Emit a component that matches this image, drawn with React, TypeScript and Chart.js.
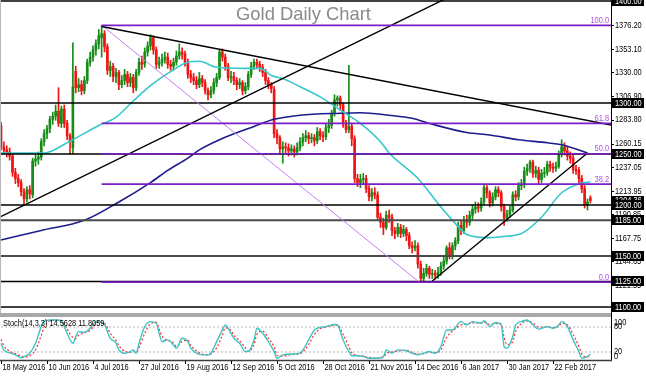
import React, { useEffect, useRef } from "react";
import { Chart, registerables } from "chart.js";

Chart.register(...registerables);

// ---------------- data ----------------
const opens = [
  1278,1257,1254,1252,1248,1232,1226,1222,1213,1206,
  1215,1210,1243,1245,1247,1262,1270,1275,1284,1287,
  1292,1280,1294,1280,1268,1256,1331,1315,1318,1312,
  1322,1340,1345,1352,1358,1364,1368,1355,1332,1336,
  1326,1330,1318,1322,1328,1320,1325,1315,1330,1340,
  1338,1350,1356,1364,1352,1338,1340,1343,1345,1338,
  1336,1340,1346,1350,1348,1340,1328,1325,1322,1318,
  1324,1320,1312,1308,1312,1320,1325,1350,1345,1336,
  1325,1326,1322,1318,1320,1312,1316,1328,1336,1340,
  1338,1335,1330,1322,1318,1313,1270,1266,1255,1257,
  1256,1253,1255,1252,1256,1262,1266,1268,1265,1266,
  1263,1272,1268,1267,1276,1278,1290,1303,1305,1298,
  1280,1274,1277,1265,1226,1222,1225,1226,1216,1208,
  1212,1210,1188,1183,1178,1190,1188,1175,1172,1178,
  1172,1176,1170,1160,1158,1160,1142,1128,1133,1138,
  1132,1133,1131,1134,1140,1145,1158,1150,1160,1165,
  1180,1175,1185,1183,1190,1196,1198,1197,1203,1217,
  1212,1202,1208,1215,1212,1198,1187,1191,1195,1210,
  1208,1219,1220,1233,1236,1242,1231,1234,1225,1231,
  1232,1240,1237,1236,1238,1250,1257,1253,1248,1246,
  1235,1234,1226,1216,1200,1207,
];
const highs = [
  1281,1262,1258,1256,1250,1236,1230,1225,1216,1218,
  1219,1246,1249,1252,1265,1274,1278,1287,1291,1298,
  1315,1297,1298,1283,1270,1359,1336,1324,1322,1326,
  1343,1350,1356,1362,1372,1376,1371,1358,1341,1339,
  1334,1332,1327,1333,1331,1329,1328,1333,1344,1346,
  1354,1360,1367,1366,1355,1345,1348,1350,1349,1342,
  1344,1351,1358,1354,1351,1343,1332,1329,1326,1330,
  1327,1323,1315,1316,1324,1329,1352,1353,1348,1339,
  1331,1330,1325,1324,1322,1320,1331,1340,1343,1343,
  1341,1338,1333,1325,1320,1316,1274,1268,1262,1261,
  1260,1259,1258,1261,1266,1270,1273,1271,1270,1269,
  1276,1275,1272,1280,1284,1293,1308,1307,1307,1300,
  1283,1337,1280,1268,1230,1230,1231,1229,1219,1216,
  1217,1213,1192,1187,1194,1195,1191,1178,1182,1181,
  1180,1178,1173,1164,1165,1163,1145,1138,1142,1140,
  1137,1136,1139,1144,1149,1160,1163,1163,1168,1183,
  1184,1189,1190,1194,1200,1203,1202,1207,1220,1219,
  1214,1212,1218,1218,1214,1201,1195,1199,1213,1214,
  1222,1225,1237,1240,1244,1244,1238,1237,1235,1237,
  1243,1243,1241,1242,1253,1264,1261,1257,1252,1249,
  1239,1237,1229,1219,1206,1209,
];
const lows = [
  1254,1250,1247,1244,1228,1221,1218,1209,1200,1203,
  1206,1207,1238,1240,1244,1258,1265,1271,1279,1283,
  1277,1276,1276,1264,1250,1250,1310,1311,1308,1309,
  1319,1336,1341,1347,1353,1345,1350,1328,1326,1321,
  1320,1313,1315,1318,1316,1316,1310,1312,1327,1333,
  1335,1346,1352,1348,1334,1334,1336,1339,1334,1332,
  1332,1337,1343,1343,1336,1324,1320,1318,1314,1315,
  1316,1309,1303,1305,1309,1316,1323,1341,1332,1322,
  1320,1318,1313,1314,1308,1309,1313,1325,1333,1334,
  1331,1326,1318,1314,1310,1266,1260,1250,1241,1251,
  1248,1249,1247,1249,1253,1258,1262,1260,1261,1258,
  1260,1264,1262,1264,1271,1275,1287,1297,1293,1276,
  1271,1271,1258,1222,1218,1217,1220,1212,1204,1204,
  1206,1185,1178,1171,1176,1183,1170,1167,1169,1168,
  1169,1165,1157,1153,1155,1138,1124,1125,1130,1128,
  1128,1127,1128,1131,1137,1142,1147,1147,1156,1162,
  1171,1172,1178,1180,1186,1192,1193,1194,1200,1207,
  1198,1199,1205,1208,1194,1180,1184,1188,1193,1204,
  1205,1215,1217,1229,1232,1227,1227,1221,1222,1227,
  1229,1233,1232,1233,1236,1247,1249,1244,1241,1231,
  1230,1222,1212,1197,1195,1202,
];
const closes = [
  1257,1254,1252,1248,1232,1226,1222,1213,1206,1215,
  1211,1243,1245,1247,1262,1270,1275,1284,1287,1292,
  1280,1294,1280,1268,1262,1316,1315,1318,1312,1322,
  1340,1345,1352,1358,1366,1368,1355,1332,1336,1326,
  1330,1318,1322,1328,1320,1325,1315,1330,1340,1338,
  1350,1356,1364,1352,1338,1340,1343,1345,1338,1336,
  1340,1346,1350,1348,1340,1328,1325,1322,1318,1324,
  1320,1312,1308,1312,1320,1325,1350,1345,1336,1325,
  1326,1322,1318,1320,1312,1316,1328,1336,1340,1338,
  1335,1330,1322,1318,1314,1270,1266,1255,1257,1256,
  1253,1255,1252,1256,1262,1266,1268,1265,1266,1263,
  1272,1268,1267,1276,1278,1290,1303,1305,1298,1280,
  1274,1277,1265,1226,1222,1225,1226,1216,1208,1212,
  1210,1188,1183,1178,1190,1188,1175,1172,1178,1172,
  1176,1170,1160,1158,1160,1142,1128,1133,1138,1132,
  1133,1131,1134,1140,1145,1158,1150,1160,1165,1180,
  1175,1185,1183,1190,1196,1198,1197,1203,1217,1212,
  1202,1208,1215,1212,1198,1187,1191,1195,1210,1208,
  1219,1220,1233,1236,1242,1231,1234,1225,1231,1232,
  1240,1237,1236,1238,1250,1257,1253,1248,1246,1235,
  1234,1226,1216,1200,1203,1204.36,
];

const dateLabels = [
  "18 May 2016", "10 Jun 2016", "4 Jul 2016", "27 Jul 2016", "19 Aug 2016",
  "12 Sep 2016", "5 Oct 2016", "28 Oct 2016", "21 Nov 2016", "14 Dec 2016",
  "6 Jan 2017", "30 Jan 2017", "22 Feb 2017",
];
const dateLabelStep = 16;

const priceTicks = [1376.2, 1353.1, 1330.0, 1306.9, 1283.8, 1260.15, 1237.05, 1213.95, 1190.85, 1167.75, 1144.65, 1121.55];
const levelLines = [1400, 1300, 1250, 1200, 1185, 1150, 1125, 1100];
const heavyLevels = [1185, 1150];
const lastPrice = 1204.36;

const fibStartIndex = 35;
const fibLabels = ["100.0", "61.8", "50.0", "38.2", "0.0"];
const fibPrices = [1376.2, 1279.97, 1250.25, 1220.52, 1124.3];
const fibDiagX = [35, 145.5];
const fibDiagY = [1376.2, 1124.3];

const trendDownX = [35, 212.5];
const trendDownY = [1375, 1278.3];
const trendLongX = [-1, 160];
const trendLongY = [1187.4, 1409.7];
const trendShortX = [150, 204];
const trendShortY = [1125.5, 1251];

const maFastIdx = [0,15,23,34,40,46,52,58,65,69,75,85,90,94,98,104,111,118,125,132,135,145,153,158,162,169,174,181,188,195,202,205];
const maFastVal = [1251,1251,1261,1278,1286,1302,1317,1329,1340,1341,1335,1334,1334,1327,1324,1316,1306,1293,1280,1262,1251,1226,1198,1182,1171,1168,1169,1172,1188,1212,1221.6,1222.5];
const maSlowIdx = [0,14,29,41,52,58,65,69,76,88,95,104,118,125,135,143,149,162,170,180,190,195,204];
const maSlowVal = [1165.7,1175,1185,1203,1222,1234,1246,1254,1264,1277,1284,1288,1290,1290.5,1288,1285,1280,1271,1268.6,1264,1261,1259,1251];

const stochIdx = [0,1,3,5,7,8,10,12,14,15,17,19,21,22,23,25,26,27,29,31,33,34,36,38,40,41,43,45,46,47,48,50,52,54,55,56,58,60,61,63,65,66,68,70,72,73,75,77,78,80,81,83,85,86,88,89,91,93,95,96,98,101,103,105,107,109,111,113,116,117,119,121,122,124,126,128,131,133,134,136,138,141,143,145,147,149,151,153,155,157,160,162,164,167,168,170,172,174,175,176,178,179,181,183,185,187,190,192,194,195,197,199,201,202,204,205];
const stochK = [41,25,18,13,6,9,17,41,81,93,97,97,95,81,65,41,57,69,67,77,93,93,85,53,41,25,17,21,25,17,41,81,93,89,65,45,49,37,29,53,45,29,17,13,13,17,45,73,85,65,53,41,21,21,49,77,65,45,21,5,13,15,15,25,49,73,79,81,86,85,49,21,11,11,9,5,5,9,25,17,25,23,17,13,17,21,17,33,73,73,93,85,93,89,95,81,91,85,33,29,57,85,93,97,85,75,81,77,85,93,81,49,21,5,9,14.56];
const stochD = [50,35,22,16,10,8,11,25,60,80,95,97,96,88,75,55,52,60,66,72,88,92,89,65,48,35,22,19,22,20,30,65,88,91,75,58,48,42,33,45,48,36,22,15,13,15,30,60,78,72,60,47,30,22,38,62,70,53,32,12,10,14,15,20,38,62,76,80,84,85,62,33,18,12,10,7,5,7,16,20,22,24,19,15,16,19,18,25,55,70,85,88,90,90,92,86,88,87,55,38,45,70,88,95,90,80,80,78,82,89,85,62,33,15,8,11.81];
const stochLevels = [80, 20];
const stochAxisLabels = ["100", "80", "20", "0"];
const stochAxisValues = [100, 80, 20, 0];
const stochInfo = "Stoch(14,3,3) 14.5628 11.8059";
const titleText = "Gold Daily Chart";

// ---------------- view settings ----------------
const X_MIN = -0.35;
const X_MAX = 212.17;
const MAIN_MIN = 1094.1;
const MAIN_MAX = 1401;
const ST_MIN = -1.68;
const ST_MAX = 104.09;
const AXIS_W = 35;
const MAIN_H = 315;
const ST_H = 73;

const BULL = "#178c17";
const BEAR = "#f01414";
const FONT_SMALL = '8.5px "Liberation Sans", Arial, sans-serif';

function drawSmall(ctx: CanvasRenderingContext2D, text: string, x: number, y: number, color: string, align: CanvasTextAlign = "left", baseline: CanvasTextBaseline = "middle") {
  ctx.save();
  ctx.font = FONT_SMALL;
  ctx.fillStyle = color;
  ctx.textAlign = align;
  ctx.textBaseline = baseline;
  ctx.translate(x, y);
  ctx.scale(0.87, 1);
  ctx.fillText(text, 0, 0);
  ctx.restore();
}

function boxLabel(ctx: CanvasRenderingContext2D, text: string, x: number, y: number) {
  ctx.save();
  ctx.fillStyle = "#000";
  ctx.fillRect(x, Math.round(y) - 5, 32, 10);
  ctx.restore();
  drawSmall(ctx, text, x + 3, y + 0.5, "#fff");
}

function pts(xs: number[], ys: number[]) {
  return xs.map((x, i) => ({ x, y: ys[i] }));
}

function seg(data: any[], color: string, width: number, order: number, extra: any = {}) {
  return {
    type: "line",
    data,
    borderColor: color,
    borderWidth: width,
    pointRadius: 0,
    fill: false,
    tension: 0,
    order,
    ...extra,
  };
}

const mainDecor = {
  id: "mainDecor",
  afterDraw(chart: any) {
    const { ctx, chartArea: a, scales } = chart;
    const y = scales.y;
    ctx.save();
    ctx.fillStyle = "#a8a8a8";
    ctx.fillRect(0, a.bottom, a.right, chart.height - a.bottom);
    ctx.strokeStyle = "#b8b8b8";
    ctx.lineWidth = 1;
    ctx.beginPath();
    ctx.moveTo(a.left + 0.5, a.top);
    ctx.lineTo(a.left + 0.5, a.bottom);
    ctx.stroke();
    ctx.strokeStyle = "#000";
    ctx.beginPath();
    ctx.moveTo(a.right + 0.5, 0);
    ctx.lineTo(a.right + 0.5, chart.height);
    ctx.stroke();
    priceTicks.forEach((v) => {
      const py = y.getPixelForValue(v);
      ctx.beginPath();
      ctx.moveTo(a.right, Math.round(py) + 0.5);
      ctx.lineTo(a.right + 3, Math.round(py) + 0.5);
      ctx.stroke();
      drawSmall(ctx, v.toFixed(2), a.right + 4, py + 0.5, "#000");
    });
    boxLabel(ctx, lastPrice.toFixed(2), a.right + 1, y.getPixelForValue(lastPrice));
    levelLines.forEach((v) => {
      boxLabel(ctx, v.toFixed(2), a.right + 1, y.getPixelForValue(v));
    });
    fibPrices.forEach((v, i) => {
      drawSmall(ctx, fibLabels[i], a.right - 2, y.getPixelForValue(v) - 0.5, "#b44ee8", "right", "bottom");
    });
    ctx.font = '18.4px "Liberation Sans", Arial, sans-serif';
    ctx.fillStyle = "#8a8a8a";
    ctx.textAlign = "center";
    ctx.textBaseline = "alphabetic";
    ctx.fillText(titleText, (a.left + a.right) / 2 - 2, 20);
    ctx.restore();
  },
};

const stochDecor = {
  id: "stochDecor",
  afterDraw(chart: any) {
    const { ctx, chartArea: a, scales } = chart;
    const x = scales.x;
    const y = scales.y;
    ctx.save();
    ctx.fillStyle = "#a8a8a8";
    ctx.fillRect(0, 0, a.right, a.top);
    ctx.strokeStyle = "#000";
    ctx.lineWidth = 1;
    ctx.beginPath();
    ctx.moveTo(a.right + 0.5, 0);
    ctx.lineTo(a.right + 0.5, a.bottom);
    ctx.stroke();
    ctx.strokeStyle = "#3c3c3c";
    ctx.lineWidth = 1.5;
    ctx.beginPath();
    ctx.moveTo(0, a.bottom - 0.5);
    ctx.lineTo(a.right + 1, a.bottom - 0.5);
    ctx.stroke();
    ctx.lineWidth = 1;
    ctx.strokeStyle = "#000";
    dateLabels.forEach((lab, k) => {
      const px = Math.round(x.getPixelForValue(k * dateLabelStep)) + 0.5;
      ctx.beginPath();
      ctx.moveTo(px, a.bottom);
      ctx.lineTo(px, a.bottom + 3);
      ctx.stroke();
      drawSmall(ctx, lab, px + 1, a.bottom + 6.5, "#000");
    });
    stochAxisValues.forEach((v, i) => {
      const py = y.getPixelForValue(v);
      const base: CanvasTextBaseline = i === 0 ? "top" : i === stochAxisValues.length - 1 ? "bottom" : "middle";
      drawSmall(ctx, stochAxisLabels[i], a.right + 3, py + (i === 3 ? 0.5 : 0), "#000", "left", base);
    });
    drawSmall(ctx, stochInfo, a.left + 3, a.top + 7, "#000");
    ctx.restore();
  },
};

export default function App() {
  const mainRef = useRef<HTMLCanvasElement | null>(null);
  const stochRef = useRef<HTMLCanvasElement | null>(null);

  useEffect(() => {
    const colors = closes.map((c, i) => (c >= opens[i] ? BULL : BEAR));
    const wickData = closes.map((_, i) => ({ x: i, y: [lows[i], highs[i]] }));
    const bodyData = closes.map((c, i) => ({ x: i, y: [Math.min(opens[i], c), Math.max(opens[i], c)] }));

    const mainDatasets: any[] = [
      { type: "bar", data: wickData, backgroundColor: colors, barThickness: 1, grouped: false, borderWidth: 0, order: 30 },
      { type: "bar", data: bodyData, backgroundColor: colors, barThickness: 2, grouped: false, borderWidth: 0, minBarLength: 1, order: 29 },
      seg(pts(maSlowIdx, maSlowVal), "#1c1c8e", 1.6, 20, { cubicInterpolationMode: "monotone" }),
      seg(pts(maFastIdx, maFastVal), "#35c8cc", 1.6, 19, { cubicInterpolationMode: "monotone" }),
      ...levelLines.map((v) =>
        seg([{ x: X_MIN - 1, y: v }, { x: X_MAX + 1, y: v }], heavyLevels.includes(v) ? "#4a4a4a" : "#000", heavyLevels.includes(v) ? 2 : 1.5, 10)
      ),
      seg(pts(fibDiagX, fibDiagY), "#c47ff2", 1, 9),
      seg(pts(trendLongX, trendLongY), "#000", 1.4, 8),
      seg(pts(trendDownX, trendDownY), "#000", 1.4, 8),
      seg(pts(trendShortX, trendShortY), "#000", 1.4, 8),
      ...fibPrices.map((v) => seg([{ x: fibStartIndex, y: v }, { x: X_MAX + 1, y: v }], "#7a1ec8", 1.7, 5)),
    ];

    const main = new Chart(mainRef.current as HTMLCanvasElement, {
      type: "bar",
      data: { datasets: mainDatasets },
      options: {
        responsive: false,
        maintainAspectRatio: false,
        animation: false,
        devicePixelRatio: 1,
        events: [],
        layout: { padding: { left: 0, right: AXIS_W, top: 0, bottom: 2 } },
        scales: {
          x: { type: "linear", min: X_MIN, max: X_MAX, display: false, offset: false },
          y: { type: "linear", min: MAIN_MIN, max: MAIN_MAX, display: false, beginAtZero: false },
        },
        plugins: { legend: { display: false }, tooltip: { enabled: false } },
      } as any,
      plugins: [mainDecor],
    } as any);

    const stDatasets: any[] = [
      ...stochLevels.map((v) =>
        seg([{ x: X_MIN - 1, y: v }, { x: X_MAX + 1, y: v }], "#b4b4b4", 1, 10, { borderDash: [2, 2] })
      ),
      seg(pts(stochIdx, stochD), "#ff2a2a", 1.2, 6, { borderDash: [2, 2], cubicInterpolationMode: "monotone" }),
      seg(pts(stochIdx, stochK), "#3cc4c4", 1.4, 5, { cubicInterpolationMode: "monotone" }),
    ];

    const st = new Chart(stochRef.current as HTMLCanvasElement, {
      type: "line",
      data: { datasets: stDatasets },
      options: {
        responsive: false,
        maintainAspectRatio: false,
        animation: false,
        devicePixelRatio: 1,
        events: [],
        layout: { padding: { left: 0, right: AXIS_W, top: 2, bottom: 27 } },
        scales: {
          x: { type: "linear", min: X_MIN, max: X_MAX, display: false, offset: false },
          y: { type: "linear", min: ST_MIN, max: ST_MAX, display: false },
        },
        plugins: { legend: { display: false }, tooltip: { enabled: false } },
      } as any,
      plugins: [stochDecor],
    } as any);

    return () => {
      main.destroy();
      st.destroy();
    };
  }, []);

  return (
    <div style={{ position: "fixed", left: 0, top: 0, width: 646, height: 388, background: "#fff", overflow: "hidden" }}>
      <canvas ref={mainRef} width={646} height={MAIN_H} style={{ position: "absolute", left: 0, top: 0 }} />
      <canvas ref={stochRef} width={646} height={ST_H} style={{ position: "absolute", left: 0, top: MAIN_H }} />
    </div>
  );
}
